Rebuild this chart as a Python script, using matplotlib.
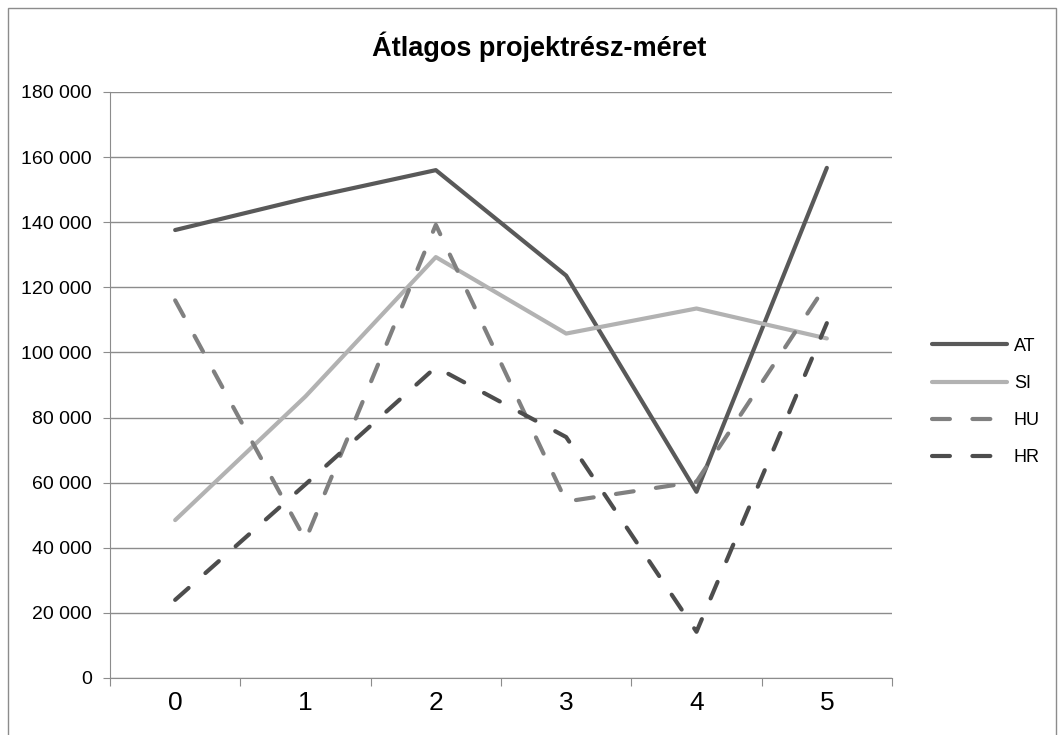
import matplotlib.pyplot as plt
from matplotlib.patches import Rectangle
from matplotlib.ticker import FuncFormatter

plt.rcParams['font.family'] = ['Liberation Sans', 'DejaVu Sans']

# categories and series
categories = [0, 1, 2, 3, 4, 5]
at_values = [137600, 147300, 156000, 123600, 57200, 156700]
si_values = [48500, 86500, 129300, 105800, 113500, 104300]
hu_values = [116000, 42400, 139200, 54200, 60300, 121000]
hr_values = [24000, 59500, 95500, 74000, 14200, 109000]

fig = plt.figure(figsize=(10.64, 7.35), dpi=100)
ax = fig.add_axes([110 / 1064, 1 - 678 / 735, 782 / 1064, 586 / 735])

# outer chart frame
fig.patches.append(Rectangle((8 / 1064, -0.05), 1048 / 1064, 1 - 8 / 735 + 0.05,
                             transform=fig.transFigure, fill=False,
                             edgecolor='#8c8c8c', linewidth=1))

dash = (0, (4.3, 5.4))
ax.plot(categories, at_values, color='#595959', lw=3, solid_capstyle='round', label='AT', zorder=3)
ax.plot(categories, si_values, color='#b2b2b2', lw=3, solid_capstyle='round', label='SI', zorder=3)
ax.plot(categories, hu_values, color='#808080', lw=3, linestyle=dash, dash_capstyle='round', label='HU', zorder=3)
ax.plot(categories, hr_values, color='#4d4d4d', lw=3, linestyle=dash, dash_capstyle='round', label='HR', zorder=3)

ax.set_xlim(-0.5, 5.5)
ax.set_ylim(0, 180000)

# y axis
ax.set_yticks(range(0, 180001, 20000))
ax.yaxis.set_major_formatter(FuncFormatter(lambda v, p: '{:,}'.format(int(v)).replace(',', ' ')))
ax.grid(axis='y', color='#8c8c8c', linewidth=1)
ax.set_axisbelow(True)
ax.tick_params(axis='y', length=5, color='#8c8c8c', labelsize=14, pad=8)

# x axis: ticks between categories, labels centred
ax.set_xticks([i - 0.5 for i in range(7)])
ax.set_xticklabels([])
ax.set_xticks(categories, minor=True)
ax.set_xticklabels([str(c) for c in categories], minor=True)
ax.tick_params(axis='x', which='major', length=6, color='#8c8c8c')
ax.tick_params(axis='x', which='minor', length=0, labelsize=19, pad=9)

for side in ['top', 'right']:
    ax.spines[side].set_visible(False)
for side in ['left', 'bottom']:
    ax.spines[side].set_color('#8c8c8c')

fig.text(539 / 1064, 1 - 47 / 735, 'Átlagos projektrész-méret', ha='center', va='center',
         fontsize=19.5, fontweight='bold')

ax.legend(loc='center left', bbox_to_anchor=(1.031, 0.471), frameon=False, fontsize=13,
          handlelength=4.15, handletextpad=0.35, labelspacing=1.12)

fig.savefig('out.png', dpi=100)
